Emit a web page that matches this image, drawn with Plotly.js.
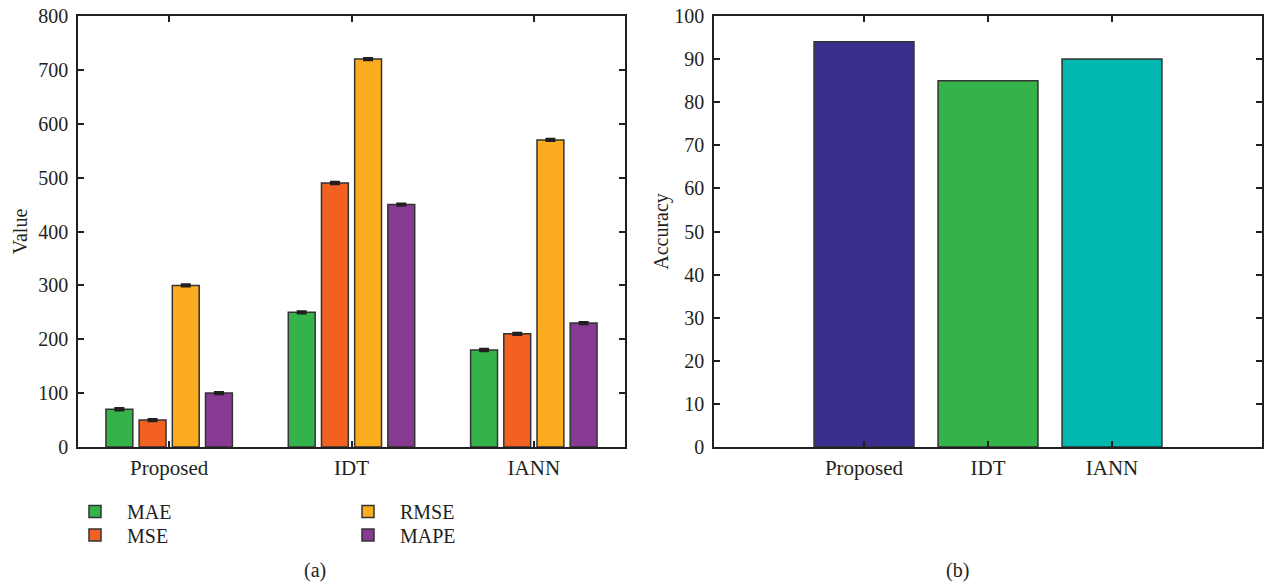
<!DOCTYPE html>
<html>
<head>
<meta charset="utf-8">
<script src="https://cdn.plot.ly/plotly-3.0.1.min.js"></script>
<style>html,body{margin:0;padding:0;background:#fff;}#chart{width:1265px;height:588px;}</style>
</head>
<body>
<div id="chart"></div>
<script>
// ---- data ----
const methods = ["Proposed", "IDT", "IANN"];
const seriesNames = ["MAE", "MSE", "RMSE", "MAPE"];
const maeValues = [70, 250, 180];
const mseValues = [50, 490, 210];
const rmseValues = [300, 720, 570];
const mapeValues = [100, 450, 230];
const errValues = [2, 2, 2];
const accuracyValues = [94, 85, 90];
const leftTicks = [0, 100, 200, 300, 400, 500, 600, 700, 800];
const rightTicks = [0, 10, 20, 30, 40, 50, 60, 70, 80, 90, 100];

// ---- styles ----
const W = 1265, H = 588;
const FONT = "Liberation Serif, Times New Roman, serif";
const TXT = "#231f20";
const seriesColors = ["#34b34a", "#f26122", "#fbad1f", "#873a91"];
const accColors = ["#3a2f8f", "#34b34a", "#00b8b0"];
const outline = {color: "#333333", width: 1.5};
const seriesVals = [maeValues, mseValues, rmseValues, mapeValues];
const legendIds = ["legend", "legend2", "legend3", "legend4"];
// legend placement (pixels): [left, top]
const legendPos = [[63, 492], [63, 515.5], [336, 492], [336, 515.5]];

const traces = seriesNames.map((n, i) => ({
  type: "bar", name: n, x: methods, y: seriesVals[i],
  xaxis: "x", yaxis: "y", legend: legendIds[i],
  marker: {color: seriesColors[i], line: outline},
  error_y: {type: "data", array: errValues, visible: true, color: TXT, thickness: 2.2, width: 5},
  hoverinfo: "x+y+name"
}));
traces.push({
  type: "bar", x: methods, y: accuracyValues, xaxis: "x2", yaxis: "y2",
  showlegend: false, width: 0.806,
  marker: {color: accColors, line: outline}
});

const px = v => v / W, py = v => 1 - v / H;
const axisCommon = {
  showline: true, linecolor: TXT, linewidth: 1.5, mirror: "ticks",
  ticks: "inside", ticklen: 6, tickcolor: TXT, tickwidth: 1.5,
  showgrid: false, zeroline: false,
  tickfont: {family: FONT, size: 20, color: TXT}
};
const xFont = {family: FONT, size: 21, color: TXT};
const titleFont = {family: FONT, size: 20, color: TXT};
const yDomain = [py(447), py(16)];

const layout = {
  width: W, height: H,
  margin: {l: 0, r: 0, t: 0, b: 0},
  paper_bgcolor: "#fff", plot_bgcolor: "#fff",
  font: {family: FONT, size: 20, color: TXT},
  barmode: "group", bargap: 0.272, bargroupgap: 0.19,
  xaxis: Object.assign({}, axisCommon, {domain: [px(78), px(625)], range: [-0.5, 2.5], anchor: "y", type: "category", ticklabelstandoff: 1, tickfont: xFont}),
  yaxis: Object.assign({}, axisCommon, {domain: yDomain, range: [0, 800], tickvals: leftTicks, anchor: "x", ticklabelstandoff: 4,
    title: {text: "Value", font: titleFont, standoff: 5}}),
  xaxis2: Object.assign({}, axisCommon, {domain: [px(714), px(1262)], range: [-1.21, 3.21], anchor: "y2", type: "category", ticklabelstandoff: 1, tickfont: xFont}),
  yaxis2: Object.assign({}, axisCommon, {domain: yDomain, range: [0, 100], tickvals: rightTicks, anchor: "x2", ticklabelstandoff: 4,
    title: {text: "Accuracy", font: titleFont, standoff: 0}}),
  annotations: [
    {text: "(a)", xref: "paper", yref: "paper", x: px(315), y: py(570), xanchor: "center", yanchor: "middle", showarrow: false, font: titleFont},
    {text: "(b)", xref: "paper", yref: "paper", x: px(957), y: py(570), xanchor: "center", yanchor: "middle", showarrow: false, font: titleFont}
  ]
};
legendIds.forEach((id, i) => {
  layout[id] = {x: px(legendPos[i][0]), xanchor: "left", y: py(legendPos[i][1]), yanchor: "top",
    orientation: "v", itemwidth: 54, bgcolor: "rgba(0,0,0,0)",
    font: {family: FONT, size: 20, color: TXT}};
});

Plotly.newPlot("chart", traces, layout, {displayModeBar: false, responsive: false});
</script>
</body>
</html>
